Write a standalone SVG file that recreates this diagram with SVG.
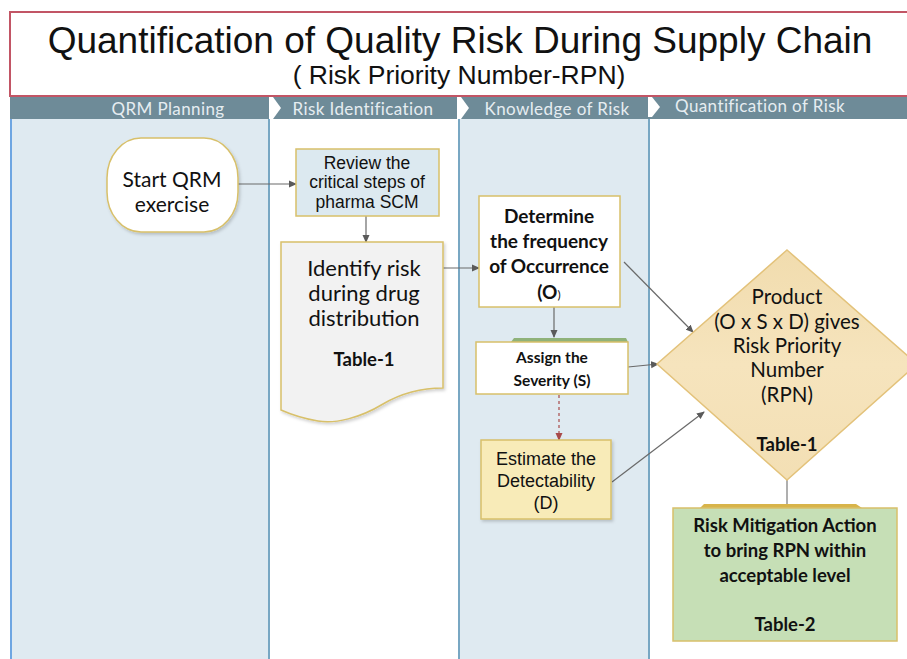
<svg xmlns="http://www.w3.org/2000/svg" width="907" height="659" viewBox="0 0 907 659">
  <defs>
    <style>
      .arial { font-family: "Liberation Sans", Arial, sans-serif; fill: #111; }
      .cal { font-family: Lato, "Open Sans", sans-serif; fill: #111; }
      .bold { font-weight: bold; }
      .hdr { font-family: Lato, "Open Sans", sans-serif; font-size: 17px; fill: #e6edf1; text-anchor: middle; letter-spacing: 0.4px; }
      .mid { text-anchor: middle; }
      .conn { stroke: #6a6a6a; stroke-width: 1.2; fill: none; marker-end: url(#arr); }
      .node { stroke: #d8c06a; stroke-width: 1.5; }
    </style>
    <marker id="arr" markerWidth="8" markerHeight="8" refX="7" refY="4" orient="auto" markerUnits="userSpaceOnUse">
      <path d="M0,0.5 L8,4 L0,7.5 Z" fill="#5a5a5a"/>
    </marker>
    <marker id="arrRed" markerWidth="8" markerHeight="8" refX="7" refY="4" orient="auto" markerUnits="userSpaceOnUse">
      <path d="M0,0.5 L8,4 L0,7.5 Z" fill="#a84a4a"/>
    </marker>
    <linearGradient id="diamondFill" x1="0" y1="0" x2="0" y2="1">
      <stop offset="0" stop-color="#f1dcae"/>
      <stop offset="0.5" stop-color="#f6e4bd"/>
      <stop offset="1" stop-color="#f3dfb4"/>
    </linearGradient>
    <filter id="shadow" x="-10%" y="-10%" width="130%" height="130%">
      <feDropShadow dx="1.5" dy="2" stdDeviation="1.5" flood-color="#000" flood-opacity="0.18"/>
    </filter>
  </defs>

  <rect width="907" height="659" fill="#ffffff"/>

  <!-- Title block -->
  <g id="title">
    <rect x="10" y="12" width="905" height="84" fill="#ffffff" stroke="#c25565" stroke-width="2"/>
    <text class="arial mid" x="460" y="53" font-size="37">Quantification of Quality Risk During Supply Chain</text>
    <text class="arial mid" x="459" y="84" font-size="26.5">( Risk Priority Number-RPN)</text>
  </g>

  <!-- Swimlanes -->
  <g id="lanes">
    <rect x="10" y="119" width="259" height="540" fill="#dfeaf1"/>
    <rect x="459" y="119" width="190" height="540" fill="#dfeaf1"/>
    <line x1="11" y1="119" x2="11" y2="659" stroke="#6ea6e2" stroke-width="2"/>
    <line x1="269" y1="119" x2="269" y2="659" stroke="#78a7c3" stroke-width="2"/>
    <line x1="459" y1="119" x2="459" y2="659" stroke="#78a7c3" stroke-width="2"/>
    <line x1="649" y1="119" x2="649" y2="659" stroke="#78a7c3" stroke-width="2"/>
    <rect x="10" y="97" width="897" height="22" fill="#6e8b98"/>
    <polygon points="269,97 273,97 281,108 273,119 269,119" fill="#ffffff"/>
    <polygon points="457,97 461,97 469,108 461,119 457,119" fill="#ffffff"/>
    <polygon points="648,97 652,97 660,107 652,117 648,117" fill="#ffffff"/>
    <text class="hdr" x="168" y="115">QRM Planning</text>
    <text class="hdr" x="363" y="115">Risk Identification</text>
    <text class="hdr" x="557" y="115">Knowledge of Risk</text>
    <text class="hdr" x="760" y="112">Quantification of Risk</text>
  </g>

  <!-- Connectors -->
  <g id="connectors">
    <line class="conn" x1="238" y1="184" x2="296" y2="184"/>
    <line class="conn" x1="366" y1="216" x2="366" y2="242"/>
    <line class="conn" x1="443" y1="268" x2="479" y2="268"/>
    <line class="conn" x1="554" y1="307" x2="554" y2="337"/>
    <line x1="559" y1="395" x2="559" y2="440" stroke="#a84a4a" stroke-width="1.2" stroke-dasharray="3,3" marker-end="url(#arrRed)"/>
    <line class="conn" x1="624" y1="262" x2="693" y2="332"/>
    <line class="conn" x1="628" y1="367" x2="658" y2="364"/>
    <line class="conn" x1="612" y1="482" x2="704" y2="412"/>
    <line x1="787" y1="480" x2="787" y2="508" stroke="#7a7a7a" stroke-width="1.2"/>
  </g>

  <!-- Start terminal -->
  <g id="start">
    <rect class="node" x="107" y="138" width="131" height="94" rx="34" ry="40" fill="#ffffff" filter="url(#shadow)"/>
    <text class="cal mid" x="172" y="187" font-size="21">Start QRM</text>
    <text class="cal mid" x="172" y="212" font-size="21">exercise</text>
  </g>

  <!-- Review step -->
  <g id="review">
    <rect class="node" x="296" y="149" width="143" height="67" fill="#dce9f0"/>
    <text class="arial mid" x="367" y="169" font-size="17.5">Review the</text>
    <text class="arial mid" x="367" y="188" font-size="17.5">critical steps of</text>
    <text class="arial mid" x="367" y="208" font-size="17.5">pharma SCM</text>
  </g>

  <!-- Identify risk document -->
  <g id="identify">
    <path class="node" d="M281,242 H443 V388 C418,388 400,394 383,404 C360,418 335,424 318,421 C300,418 290,414 281,410 Z" fill="#f2f2f2" filter="url(#shadow)"/>
    <text class="cal mid" x="364" y="276" font-size="22">Identify risk</text>
    <text class="cal mid" x="364" y="301" font-size="22">during drug</text>
    <text class="cal mid" x="364" y="326" font-size="22">distribution</text>
    <text class="cal mid bold" x="364" y="366" font-size="18.5">Table-1</text>
  </g>

  <!-- Occurrence -->
  <g id="occurrence">
    <rect class="node" x="479" y="196" width="141" height="111" fill="#ffffff"/>
    <text class="cal mid bold" x="549" y="223" font-size="19">Determine</text>
    <text class="cal mid bold" x="549" y="248" font-size="19">the frequency</text>
    <text class="cal mid bold" x="549" y="273" font-size="19">of Occurrence</text>
    <text class="cal mid bold" x="549" y="299" font-size="19">(O<tspan font-size="12" font-weight="normal">)</tspan></text>
  </g>

  <!-- Severity -->
  <g id="severity">
    <path d="M511,342 L514,338 H626 L628,342 Z" fill="#8fb27a"/>
    <rect class="node" x="476" y="342" width="152" height="52" fill="#ffffff"/>
    <text class="cal mid bold" x="552" y="363" font-size="15.5">Assign the</text>
    <text class="cal mid bold" x="552" y="386" font-size="15.5">Severity (S)</text>
  </g>

  <!-- Detectability -->
  <g id="detectability">
    <rect class="node" x="481" y="440" width="130" height="79" fill="#f8ebb8" filter="url(#shadow)"/>
    <text class="arial mid" x="546" y="465" font-size="18">Estimate  the</text>
    <text class="arial mid" x="546" y="487" font-size="18">Detectability</text>
    <text class="arial mid" x="546" y="509" font-size="18">(D)</text>
  </g>

  <!-- RPN decision -->
  <g id="rpn">
    <polygon points="787,250 917,364 787,480 657,364" fill="url(#diamondFill)" stroke="#e3c27a" stroke-width="1.5"/>
    <text class="cal mid" x="787" y="304" font-size="20.5">Product</text>
    <text class="cal mid" x="787" y="329" font-size="20.5">(O x S x D) gives</text>
    <text class="cal mid" x="787" y="353" font-size="20.5">Risk Priority</text>
    <text class="cal mid" x="787" y="377" font-size="20.5">Number</text>
    <text class="cal mid" x="787" y="402" font-size="20.5">(RPN)</text>
    <text class="cal mid bold" x="787" y="451" font-size="18.5">Table-1</text>
  </g>

  <!-- Mitigation -->
  <g id="mitigation">
    <path d="M700,508 L704,504 H856 L862,508 Z" fill="#d8b44a"/>
    <rect class="node" x="673" y="508" width="224" height="133" fill="#c6dfb6"/>
    <text class="cal mid bold" x="785" y="532" font-size="18.5">Risk Mitigation Action</text>
    <text class="cal mid bold" x="785" y="557" font-size="18.5">to bring RPN within</text>
    <text class="cal mid bold" x="785" y="582" font-size="18.5">acceptable level</text>
    <text class="cal mid bold" x="785" y="631" font-size="18.5">Table-2</text>
  </g>
</svg>
